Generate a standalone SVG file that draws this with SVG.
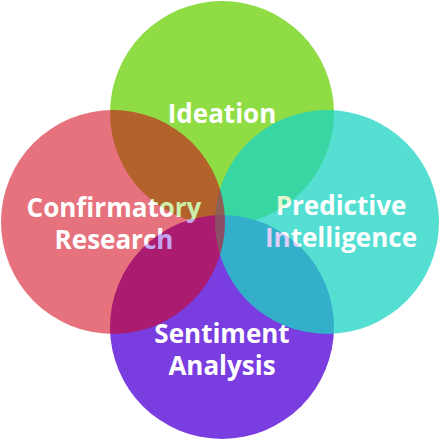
<svg xmlns="http://www.w3.org/2000/svg" width="440" height="440" viewBox="0 0 440 440">
<style>
text{font-family:"Open Sans","Noto Sans","DejaVu Sans",sans-serif;font-weight:700;font-size:26px;fill:#ffffff;text-anchor:middle}
</style>
<rect width="440" height="440" fill="#ffffff"/>
<g id="ideation">
<circle cx="222" cy="113" r="112" fill="#8fdc45"/>
<text x="222" y="123">Ideation</text>
</g>
<g id="sentiment-analysis">
<circle cx="222" cy="327" r="112" fill="#7a3ddf"/>
<text x="222" y="343">Sentiment</text>
<text x="222" y="375">Analysis</text>
</g>
<g id="predictive-intelligence" opacity="0.75">
<circle cx="327" cy="222" r="112" fill="#1cd5c3"/>
<text x="341" y="215">Predictive</text>
<text x="341" y="247">Intelligence</text>
</g>
<g id="confirmatory-research" opacity="0.55">
<circle cx="113" cy="222" r="112" fill="#d30016"/>
<text x="114" y="217">Confirmatory</text>
<text x="114" y="249">Research</text>
</g>
<g id="connectors"/>
</svg>
